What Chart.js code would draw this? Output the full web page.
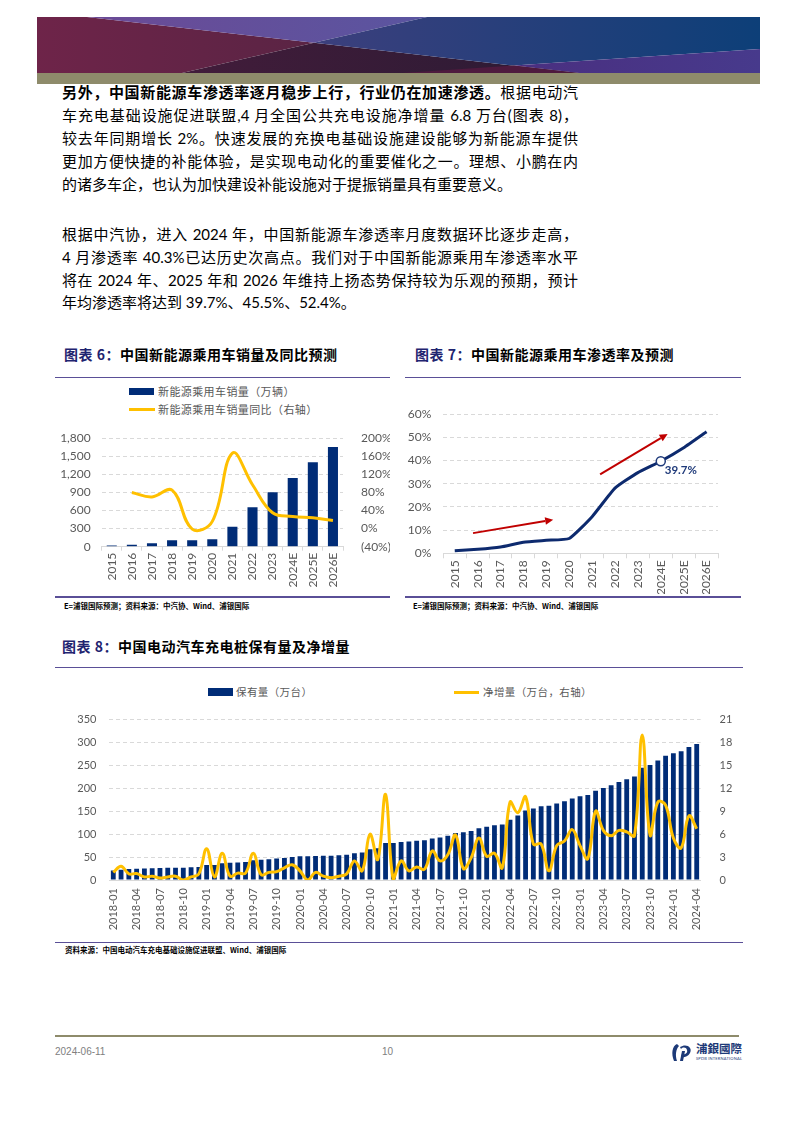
<!DOCTYPE html>
<html lang="zh-CN">
<head>
<meta charset="utf-8">
<script src="https://cdn.jsdelivr.net/npm/chart.js@4.4.1/dist/chart.umd.min.js"></script>
<style>
  html, body { margin: 0; padding: 0; background: #fff; }
  body { width: 794px; height: 1123px; position: relative; overflow: hidden;
         font-family: Lato, "Noto Sans CJK SC", sans-serif; color: #000; }
  .abs { position: absolute; }
  .ln { position: absolute; left: 62px; width: 516px; font-size: 15px; line-height: 20px;
        text-align: justify; text-align-last: justify; }
  .ln.last { text-align-last: left; }
  .ln b { font-weight: 700; }
  .title { position: absolute; font-size: 14px; font-weight: 700; letter-spacing: 0.5px;
           line-height: 18px; font-family: "Noto Sans CJK SC", sans-serif; white-space: nowrap; }
  .title span { color: #1f2470; }
  .rule { position: absolute; height: 1.5px; background: #5a4f97; }
  .note { position: absolute; font-size: 7.5px; font-weight: 700; line-height: 10px;
          font-family: "Noto Sans CJK SC", Lato, sans-serif; white-space: nowrap; }
  .lg { position: absolute; font-size: 11px; color: #595959; line-height: 14px;
        font-family: "Noto Sans CJK SC", sans-serif; white-space: nowrap; letter-spacing: 0.4px; }
  canvas { position: absolute; }
</style>
</head>
<body>

<!-- header banner -->
<svg class="abs" style="left:37px;top:17px" width="723" height="67" viewBox="0 0 723 67">
  <defs>
    <linearGradient id="gL" x1="0" x2="1"><stop offset="0" stop-color="#6e2449"/><stop offset="1" stop-color="#5a2444"/></linearGradient>
    <linearGradient id="gT" x1="0" x2="1"><stop offset="0" stop-color="#6b4a96"/><stop offset="1" stop-color="#5a55a0"/></linearGradient>
    <linearGradient id="gD" x1="0" x2="1"><stop offset="0" stop-color="#421c3a"/><stop offset="1" stop-color="#2b1b34"/></linearGradient>
    <linearGradient id="gN" x1="0" x2="1"><stop offset="0" stop-color="#3c3f7d"/><stop offset="1" stop-color="#0d3f78"/></linearGradient>
    <linearGradient id="gP" x1="0" x2="1"><stop offset="0" stop-color="#4a2f80"/><stop offset="1" stop-color="#473a8c"/></linearGradient>
  </defs>
  <polygon points="0,0 50,0 277,25.8 145,56 0,56" fill="url(#gL)"/>
  <polygon points="50,0 390,0 277,25.8" fill="url(#gT)"/>
  <polygon points="145,56 277,25.8 542,56" fill="url(#gD)"/>
  <polygon points="277,25.8 390,0 723,0 723,32 477,48.6" fill="url(#gN)"/>
  <polygon points="477,48.6 723,32 723,56 542,56" fill="url(#gP)"/>
  <polygon points="365,56 477,48.6 542,56" fill="#4e1a3e"/>
  <rect x="0" y="56" width="723" height="11" fill="#8e8b6b"/>
</svg>

<!-- body text -->
<div class="ln" style="top:82px"><b>另外，中国新能源车渗透率逐月稳步上行，行业仍在加速渗透。</b>根据电动汽</div>
<div class="ln" style="top:105px">车充电基础设施促进联盟,4 月全国公共充电设施净增量 6.8 万台(图表 8)，</div>
<div class="ln" style="top:128px">较去年同期增长 2%。快速发展的充换电基础设施建设能够为新能源车提供</div>
<div class="ln" style="top:151px">更加方便快捷的补能体验，是实现电动化的重要催化之一。理想、小鹏在内</div>
<div class="ln last" style="top:174px">的诸多车企，也认为加快建设补能设施对于提振销量具有重要意义。</div>

<div class="ln" style="top:224px">根据中汽协，进入 2024 年，中国新能源车渗透率月度数据环比逐步走高，</div>
<div class="ln" style="top:247px">4 月渗透率 40.3%已达历史次高点。我们对于中国新能源乘用车渗透率水平</div>
<div class="ln" style="top:270px">将在 2024 年、2025 年和 2026 年维持上扬态势保持较为乐观的预期，预计</div>
<div class="ln last" style="top:292px">年均渗透率将达到 39.7%、45.5%、52.4%。</div>

<!-- chart 6 -->
<div class="title" style="left:64px;top:345px"><span>图表 6：</span>中国新能源乘用车销量及同比预测</div>
<div class="rule" style="left:55px;top:376.5px;width:335px"></div>
<div class="abs" style="left:129px;top:388px;width:25px;height:7px;background:#002c77"></div>
<div class="lg" style="left:158px;top:384px">新能源乘用车销量（万辆）</div>
<div class="abs" style="left:129px;top:408px;width:26px;height:3px;background:#ffc000"></div>
<div class="lg" style="left:158px;top:402px">新能源乘用车销量同比（右轴）</div>
<canvas id="c6" width="335" height="172" style="left:55px;top:420px;width:335px;height:172px"></canvas>
<div class="rule" style="left:55px;top:596px;width:335px"></div>
<div class="note" style="left:64px;top:601px">E=浦银国际预测；资料来源：中汽协、Wind、浦银国际</div>

<!-- chart 7 -->
<div class="title" style="left:415px;top:345px"><span>图表 7：</span>中国新能源乘用车渗透率及预测</div>
<div class="rule" style="left:405px;top:376.5px;width:336px"></div>
<canvas id="c7" width="337" height="199" style="left:405px;top:395px;width:337px;height:199px"></canvas>
<div class="rule" style="left:405px;top:596px;width:336px"></div>
<div class="note" style="left:413px;top:601px">E=浦银国际预测；资料来源：中汽协、Wind、浦银国际</div>

<!-- chart 8 -->
<div class="title" style="left:62px;top:637px"><span>图表 8：</span>中国电动汽车充电桩保有量及净增量</div>
<div class="rule" style="left:55px;top:666.5px;width:688px"></div>
<div class="abs" style="left:208px;top:688px;width:25px;height:8px;background:#002c77"></div>
<div class="lg" style="left:236px;top:685px;font-size:10.5px">保有量（万台）</div>
<div class="abs" style="left:454px;top:690.5px;width:25px;height:3px;background:#ffc000"></div>
<div class="lg" style="left:483px;top:685px;font-size:10.5px">净增量（万台，右轴）</div>
<canvas id="c8" width="688" height="235" style="left:55px;top:700px;width:688px;height:235px"></canvas>
<div class="rule" style="left:55px;top:941.5px;width:688px"></div>
<div class="note" style="left:65px;top:945px">资料来源：中国电动汽车充电基础设施促进联盟、Wind、浦银国际</div>

<!-- footer -->
<div class="abs" style="left:55px;top:1035px;width:684px;height:1.5px;background:#8e8b6b"></div>
<div class="abs" style="left:55px;top:1046px;font-size:10px;color:#808080;font-family:'Liberation Sans Narrow','Liberation Sans',sans-serif">2024-06-11</div>
<div class="abs" style="left:382px;top:1046px;font-size:10px;color:#808080;font-family:'Liberation Sans Narrow','Liberation Sans',sans-serif">10</div>
<svg class="abs" style="left:670px;top:1042px" width="24" height="20" viewBox="0 0 24 20">
  <path d="M7 2 C2 4 1 12 4 19 L7 19 C5 13 6 7 9 4 Z" fill="#1d3a78"/>
  <path d="M10 5 C16 1 23 5 20 11 C18 15 13 16 11 15 L12 12 C15 13 18 11 17 8 C16 5 13 5 11 7 Z" fill="#1d3a78"/>
  <path d="M12 9 L15 9 L13 19 L10 19 Z" fill="#1d3a78"/>
</svg>
<div class="abs" style="left:696px;top:1042px;font-size:11.5px;font-weight:700;color:#1d3a78;font-family:'Noto Sans CJK TC',sans-serif;line-height:13px">浦銀國際</div>
<div class="abs" style="left:696px;top:1056px;font-size:4px;color:#1d3a78;line-height:5px;letter-spacing:0.2px">SPDB INTERNATIONAL</div>

<script>
// ---- data: chart 6 / 7 ----
const salesYears = ['2015', '2016', '2017', '2018', '2019', '2020', '2021', '2022', '2023', '2024E', '2025E', '2026E'];
const nevSales   = [18, 34, 58, 105, 106, 125, 333, 655, 905, 1139, 1402, 1656];      // 万辆
const nevYoY     = [null, 80, 70, 85, -1, 16, 167, 97, 35, 27, 24, 18];               // %
const penetration = [1.1, 1.7, 2.7, 4.8, 5.6, 6.4, 15.8, 28.1, 34.8, 39.7, 45.5, 52.4]; // %
const markedIndex = 9; // 2024E, 39.7%
const trendArrows = [
  { from: [0.8, 8.7],  to: [4.3, 14.5] },
  { from: [6.35, 34],  to: [9.3, 51.5] },
];

// ---- data: chart 8 ----
const months = [
  '2018-01','2018-02','2018-03','2018-04','2018-05','2018-06','2018-07','2018-08','2018-09','2018-10','2018-11','2018-12',
  '2019-01','2019-02','2019-03','2019-04','2019-05','2019-06','2019-07','2019-08','2019-09','2019-10','2019-11','2019-12',
  '2020-01','2020-02','2020-03','2020-04','2020-05','2020-06','2020-07','2020-08','2020-09','2020-10','2020-11','2020-12',
  '2021-01','2021-02','2021-03','2021-04','2021-05','2021-06','2021-07','2021-08','2021-09','2021-10','2021-11','2021-12',
  '2022-01','2022-02','2022-03','2022-04','2022-05','2022-06','2022-07','2022-08','2022-09','2022-10','2022-11','2022-12',
  '2023-01','2023-02','2023-03','2023-04','2023-05','2023-06','2023-07','2023-08','2023-09','2023-10','2023-11','2023-12',
  '2024-01','2024-02','2024-03','2024-04'
];
const chargerStock = [ // 万台
  21, 22.4, 23.8, 24.5, 25.2, 25.9, 26, 26.5, 26.6, 26.8, 27.9, 28.6,
  32.7, 33, 36.7, 37.4, 38.1, 39.5, 42.9, 44, 45.5, 47, 48, 50,
  52, 52, 52.5, 52.8, 53, 54, 55, 58.5, 60, 67, 69.5, 80.7,
  80.7, 83, 84, 85.5, 87, 90.5, 93, 96.5, 102.5, 104, 107, 113,
  116, 119.5, 121, 131.5, 140.5, 151.5, 156, 160.7, 162, 166.7, 172, 178,
  182.5, 185.7, 194.6, 201, 207, 213.6, 220, 226, 245, 251, 261, 271,
  276.5, 281, 290, 297
];
const netAdd = [ // 万台，右轴
  1.0, 1.8, 0.8, 0.85, 0.4, 0.5, 0.25, 0.4, 0.5, 0.0, 0.4, 0.8,
  4.1, 0.4, 3.5, 0.5, 0.9, 0.9, 3.5, 0.7, 1.0, 1.1, 1.6, 2.0,
  1.2, 0.0, 1.0, 0.5, 0.3, 0.5, 0.8, 2.5, 1.2, 6.0, 2.7, 11.2,
  0.0, 2.5, 1.2, 1.7, 1.4, 3.8, 2.5, 3.3, 5.9, 1.5, 2.9, 5.5,
  3.1, 3.5, 1.6, 10.2, 8.8, 10.9, 4.7, 4.7, 1.2, 4.5, 5.1, 6.6,
  4.5, 2.8, 9.0, 6.5, 5.8, 6.5, 6.3, 5.8, 19.0, 5.9, 10.2, 9.8,
  5.5, 4.2, 8.4, 6.7
];

// ---- shared styling ----
const NAVY = '#002c77';
const GOLD = '#ffc000';
const GRID = '#d9d9d9';
const TICK = '#595959';
Chart.defaults.font.family = 'Lato, "Noto Sans CJK SC", sans-serif';
Chart.defaults.color = TICK;

const hideZero = ctx => (ctx.tick && ctx.tick.value === 0 ? 'rgba(0,0,0,0)' : GRID);
const baseOpts = {
  responsive: false,
  maintainAspectRatio: false,
  animation: false,
  events: [],
  plugins: { legend: { display: false }, tooltip: { enabled: false } },
};

// ---- chart 6: sales + yoy ----
new Chart(document.getElementById('c6'), {
  type: 'bar',
  data: {
    labels: salesYears,
    datasets: [
      { type: 'line', data: nevYoY, yAxisID: 'y1', borderColor: GOLD, borderWidth: 3,
        pointRadius: 0, tension: 0.4, order: 0, spanGaps: false },
      { type: 'bar', data: nevSales, yAxisID: 'y', backgroundColor: NAVY,
        barPercentage: 0.5, categoryPercentage: 1, order: 1 },
    ],
  },
  options: {
    ...baseOpts,
    layout: { padding: { top: 6 } },
    scales: {
      x: {
        grid: { drawOnChartArea: false, tickLength: 4, color: GRID, offset: true },
        border: { color: GRID },
        ticks: { minRotation: 90, maxRotation: 90, padding: 2, font: { size: 12 } },
        afterFit: s => { s.height = 45.3; },
      },
      y: {
        position: 'left', min: 0, max: 1800,
        ticks: { stepSize: 300, padding: 11, font: { size: 12 },
                 callback: v => v.toLocaleString('en-US') },
        grid: { color: hideZero, drawTicks: false },
        border: { display: false, dash: [4, 3] },
        afterFit: s => { s.width = 46.7; },
      },
      y1: {
        position: 'right', min: -40, max: 200,
        ticks: { stepSize: 40, padding: 10, font: { size: 12 },
                 callback: v => (v < 0 ? `(${-v}%)` : `${v}%`) },
        grid: { display: false },
        border: { display: false },
        afterFit: s => { s.width = 47; },
      },
    },
  },
});

// ---- chart 7: penetration rate ----
const arrowPlugin = {
  id: 'trendArrows',
  afterDatasetsDraw(chart) {
    const { ctx, scales: { x, y } } = chart;
    ctx.save();
    ctx.strokeStyle = '#c00000';
    ctx.fillStyle = '#c00000';
    ctx.lineWidth = 2;
    for (const a of trendArrows) {
      const x1 = x.getPixelForValue(a.from[0]), y1 = y.getPixelForValue(a.from[1]);
      const x2 = x.getPixelForValue(a.to[0]),   y2 = y.getPixelForValue(a.to[1]);
      const ang = Math.atan2(y2 - y1, x2 - x1);
      const head = 8, half = 3.8;
      const bx = x2 - head * Math.cos(ang), by = y2 - head * Math.sin(ang);
      ctx.beginPath();
      ctx.moveTo(x1, y1);
      ctx.lineTo(bx, by);
      ctx.stroke();
      ctx.beginPath();
      ctx.moveTo(x2, y2);
      ctx.lineTo(bx + half * Math.sin(ang), by - half * Math.cos(ang));
      ctx.lineTo(bx - half * Math.sin(ang), by + half * Math.cos(ang));
      ctx.closePath();
      ctx.fill();
    }
    // value label next to the marked point
    const pt = chart.getDatasetMeta(0).data[markedIndex];
    ctx.font = 'bold 11.5px Lato, sans-serif';
    ctx.fillStyle = '#1f3a7a';
    ctx.textAlign = 'left';
    ctx.textBaseline = 'top';
    ctx.fillText(`${penetration[markedIndex]}%`, pt.x + 4, pt.y + 3);
    ctx.restore();
  },
};

new Chart(document.getElementById('c7'), {
  type: 'line',
  data: {
    labels: salesYears,
    datasets: [{
      data: penetration,
      borderColor: '#0d2a6e',
      borderWidth: 3,
      tension: 0.15,
      pointRadius: ctx => (ctx.dataIndex === markedIndex ? 4.5 : 0),
      pointBackgroundColor: '#fff',
      pointBorderColor: '#1f3a7a',
      pointBorderWidth: 1.5,
    }],
  },
  options: {
    ...baseOpts,
    layout: { padding: { top: 9, right: 24 } },
    scales: {
      x: {
        offset: true,
        grid: { drawOnChartArea: false, tickLength: 5, color: GRID, offset: true },
        border: { color: GRID },
        ticks: { minRotation: 90, maxRotation: 90, padding: 2, font: { size: 12 } },
        afterFit: s => { s.height = 40.7; },
      },
      y: {
        min: 0, max: 60,
        ticks: { stepSize: 10, padding: 12, font: { size: 12 }, callback: v => `${v}%` },
        grid: { color: hideZero, drawTicks: false },
        border: { display: false, dash: [4, 3] },
        afterFit: s => { s.width = 38.3; },
      },
    },
  },
  plugins: [arrowPlugin],
});

// ---- chart 8: charger stock + net additions ----
new Chart(document.getElementById('c8'), {
  type: 'bar',
  data: {
    labels: months,
    datasets: [
      { type: 'line', data: netAdd, yAxisID: 'y1', borderColor: GOLD, borderWidth: 3,
        pointRadius: 0, tension: 0.4, order: 0 },
      { type: 'bar', data: chargerStock, yAxisID: 'y', backgroundColor: NAVY,
        barPercentage: 0.62, categoryPercentage: 1, order: 1 },
    ],
  },
  options: {
    ...baseOpts,
    layout: { padding: { top: 8.3 } },
    scales: {
      x: {
        grid: { drawOnChartArea: false, drawTicks: false },
        border: { color: GRID },
        ticks: {
          autoSkip: false, minRotation: 90, maxRotation: 90, padding: 8, font: { size: 11 },
          callback(v, i) { return i % 3 === 0 ? this.getLabelForValue(v) : ''; },
        },
        afterFit: s => { s.height = 55; },
      },
      y: {
        position: 'left', min: 0, max: 350,
        ticks: { stepSize: 50, padding: 13, font: { size: 11 } },
        grid: { color: hideZero, drawTicks: false },
        border: { display: false, dash: [4, 3] },
        afterFit: s => { s.width = 54.4; },
      },
      y1: {
        position: 'right', min: 0, max: 21,
        ticks: { stepSize: 3, padding: 11, font: { size: 11 } },
        grid: { display: false },
        border: { display: false },
        afterFit: s => { s.width = 42.4; },
      },
    },
  },
});
</script>
</body>
</html>
